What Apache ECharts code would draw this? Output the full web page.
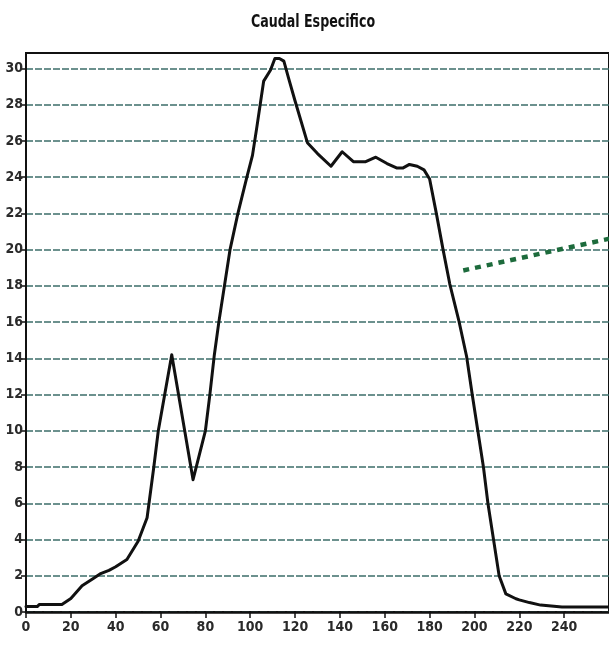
<!DOCTYPE html>
<html>
<head>
<meta charset="utf-8">
<script src="https://cdn.jsdelivr.net/npm/echarts@6/dist/echarts.min.js"></script>
<style>
html,body{margin:0;padding:0;background:#fff;}
#c{width:609px;height:646px;}
</style>
</head>
<body>
<div id="c"></div>
<script>
const titleText = 'Caudal Especifico';
const xDays = [0,5,6,16,20,25,30,33,37,40,45,50,54,57,59,62,65,74.5,80,82,84,86,91,94.5,98.5,101,103,106,109,111,113,115,117,120,125.5,130,136,141,146,151.5,156,161,165.5,168,171,174.5,177.5,180,183,186,189,193,196.5,199,201.5,204,206,208.5,211,214,218.5,220,224.5,229.5,239,260];
const qValues = [0.3,0.3,0.42,0.42,0.75,1.45,1.85,2.1,2.3,2.5,2.9,3.9,5.2,8.0,10.0,12.1,14.2,7.3,10.0,12.0,14.2,16.0,20.0,22.0,24.0,25.2,26.8,29.3,29.9,30.55,30.55,30.4,29.5,28.2,25.9,25.3,24.6,25.4,24.85,24.85,25.1,24.75,24.5,24.5,24.7,24.6,24.4,23.9,22.0,20.0,18.1,16.1,14.1,12.0,10.0,8.0,6.0,4.0,2.0,1.0,0.73,0.67,0.52,0.38,0.27,0.27];
const trendX = [195, 262];
const trendY = [18.85, 20.65];
const xTickValues = [0,20,40,60,80,100,120,140,160,180,200,220,240];
const yTickValues = [0,2,4,6,8,10,12,14,16,18,20,22,24,26,28,30];

const font = '"Liberation Sans Narrow","DejaVu Sans Condensed","Arial Narrow",sans-serif';
const chart = echarts.init(document.getElementById('c'), null, {renderer:'canvas'});
chart.setOption({
  backgroundColor:'#ffffff',
  animation:false,
  graphic:[{
    type:'text', x:313, y:22, scaleX:0.78, scaleY:1.0,
    style:{text:titleText, font:'bold 18px "DejaVu Sans Condensed", sans-serif', fill:'#111', textAlign:'center', textVerticalAlign:'middle'}
  }],
  grid:{left:26, top:53, bottom:34, right:-4.6, show:true, borderColor:'#111', borderWidth:2, backgroundColor:'transparent'},
  xAxis:{
    type:'value', min:0, max:260, interval:20,
    axisLine:{show:true, onZero:false, lineStyle:{color:'#111', width:2.5}},
    axisTick:{show:true, length:6, customValues:xTickValues, lineStyle:{color:'#111', width:1.5}},
    axisLabel:{customValues:xTickValues, margin:8, fontFamily:font, fontWeight:'bold', fontSize:14, color:'#2a2a2a'},
    splitLine:{show:false}
  },
  yAxis:{
    type:'value', min:0, max:30.85, interval:2,
    axisLine:{show:true, lineStyle:{color:'#111', width:2}},
    axisTick:{show:true, length:5, customValues:yTickValues, lineStyle:{color:'#111', width:1.5}},
    axisLabel:{customValues:yTickValues, margin:3, fontFamily:font, fontWeight:'bold', fontSize:14, color:'#2a2a2a'},
    splitLine:{show:true, lineStyle:{color:'#3c6e6a', width:1.6, type:[7,2]}}
  },
  series:[
    {
      type:'line', data:xDays.map((d,i)=>[d,qValues[i]]),
      showSymbol:false, symbol:'none', smooth:false,
      lineStyle:{color:'#111', width:3, join:'round', cap:'round'},
      z:5
    },
    {
      type:'line', data:trendX.map((d,i)=>[d,trendY[i]]),
      showSymbol:false, symbol:'none',
      lineStyle:{color:'#1d6b3c', width:4.5, type:[6,6]},
      z:4
    }
  ]
});
</script>
</body>
</html>
